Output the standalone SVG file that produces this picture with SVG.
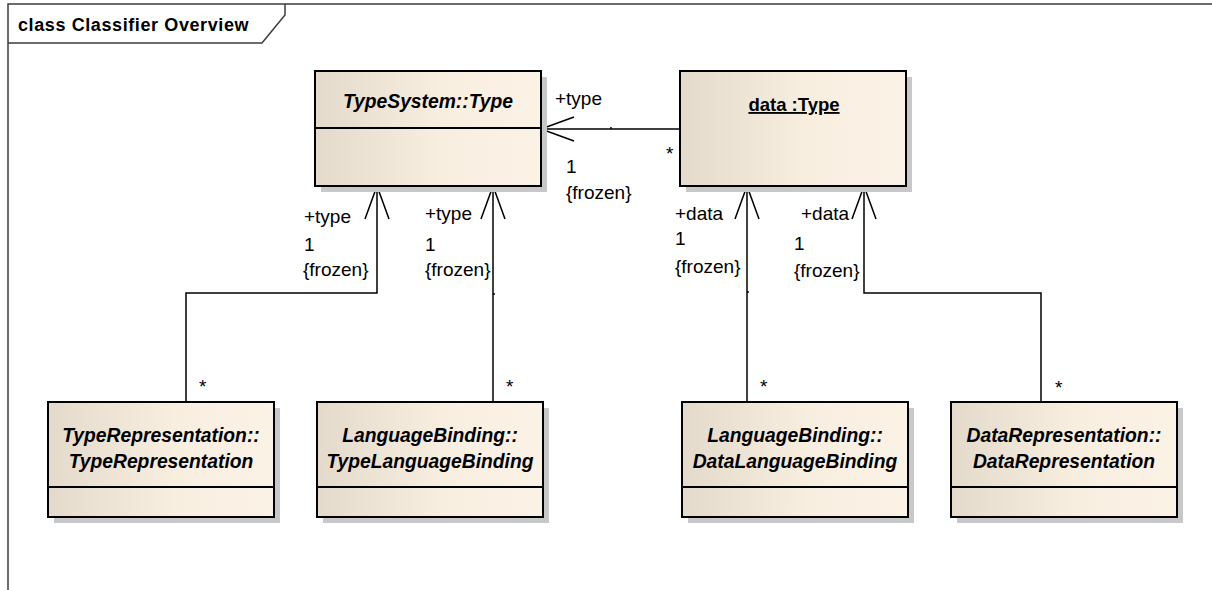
<svg xmlns="http://www.w3.org/2000/svg" width="1212" height="590" viewBox="0 0 1212 590">
<style>
  text { font-family: "Liberation Sans", Arial, sans-serif; fill: #000; }
  .frame { fill: none; stroke: #3c3c3c; stroke-width: 1.5; }
  .title { font-size: 18px; font-weight: bold; letter-spacing: 0.6px; }
  .box { fill: url(#boxfill); stroke: #000; stroke-width: 2; }
  .shadow { fill: #c8c8c8; }
  .div { stroke: #000; stroke-width: 2; }
  .name { font-size: 19.3px; font-weight: bold; font-style: italic; text-anchor: middle; }
  .obj { font-size: 18.5px; font-weight: bold; text-anchor: middle; text-decoration: underline; }
  .lbl { font-size: 19px; }
  .conn { fill: none; stroke: #000; stroke-width: 1.5; }
</style>
<defs>
  <linearGradient id="boxfill" x1="0" y1="0" x2="1" y2="0">
    <stop offset="0" stop-color="#e4dacb"/>
    <stop offset="0.55" stop-color="#f8eee0"/>
    <stop offset="1" stop-color="#fbf2e6"/>
  </linearGradient>
  <marker id="open" markerUnits="userSpaceOnUse" viewBox="-2 -14 38 28" markerWidth="38" markerHeight="28" refX="0" refY="0" orient="auto" overflow="visible">
    <path d="M33,-12 L0,0 L33,12" fill="none" stroke="#000" stroke-width="1.5"/>
  </marker>
</defs>
<rect width="1212" height="590" fill="#fff"/>
<g id="frame">
  <path class="frame" d="M8,590 L8,4 L1212,4"/>
  <path class="frame" d="M8,43 L262,43 L285,15 L285,4"/>
  <text class="title" x="18" y="31">class Classifier Overview</text>
</g>
<g id="connectors">
  <path class="conn" d="M541,129 L680,129" marker-start="url(#open)"/>
  <path class="conn" d="M611,127 L611,129"/>
  <path class="conn" d="M377,186 L377,293 L186,293 L186,402" marker-start="url(#open)"/>
  <path class="conn" d="M493,186 L493,402" marker-start="url(#open)"/>
  <path class="conn" d="M493,294 L495,294"/>
  <path class="conn" d="M747,186 L747,402" marker-start="url(#open)"/>
  <path class="conn" d="M747,292 L749,292"/>
  <path class="conn" d="M864,186 L864,293 L1041,293 L1041,402" marker-start="url(#open)"/>
  <text class="lbl" x="555" y="105">+type</text>
  <text class="lbl" x="566" y="173">1</text>
  <text class="lbl" x="566" y="199">{frozen}</text>
  <text class="lbl" x="666" y="160">*</text>
  <text class="lbl" x="304" y="223">+type</text>
  <text class="lbl" x="304" y="251">1</text>
  <text class="lbl" x="303" y="276">{frozen}</text>
  <text class="lbl" x="199" y="393">*</text>
  <text class="lbl" x="425" y="220">+type</text>
  <text class="lbl" x="425" y="251">1</text>
  <text class="lbl" x="425" y="276">{frozen}</text>
  <text class="lbl" x="506" y="393">*</text>
  <text class="lbl" x="675" y="220">+data</text>
  <text class="lbl" x="675" y="245">1</text>
  <text class="lbl" x="675" y="273">{frozen}</text>
  <text class="lbl" x="760" y="393">*</text>
  <text class="lbl" x="801" y="220">+data</text>
  <text class="lbl" x="794" y="250">1</text>
  <text class="lbl" x="794" y="277">{frozen}</text>
  <text class="lbl" x="1055" y="394">*</text>
</g>
<g id="typesystem-type">
  <rect class="shadow" x="321" y="77" width="226" height="115"/>
  <rect class="box" x="315" y="71" width="226" height="115"/>
  <line class="div" x1="315" y1="128" x2="541" y2="128"/>
  <text class="name" x="428" y="108">TypeSystem::Type</text>
</g>
<g id="data-type">
  <rect class="shadow" x="686" y="77" width="226" height="115"/>
  <rect class="box" x="680" y="71" width="226" height="115"/>
  <text class="obj" x="794" y="111">data :Type</text>
</g>
<g id="type-representation">
  <rect class="shadow" x="54" y="408" width="226" height="115"/>
  <rect class="box" x="48" y="402" width="226" height="115"/>
  <line class="div" x1="48" y1="487" x2="274" y2="487"/>
  <text class="name" x="161" y="442">TypeRepresentation::</text>
  <text class="name" x="161" y="468">TypeRepresentation</text>
</g>
<g id="type-language-binding">
  <rect class="shadow" x="323" y="408" width="226" height="115"/>
  <rect class="box" x="317" y="402" width="226" height="115"/>
  <line class="div" x1="317" y1="487" x2="543" y2="487"/>
  <text class="name" x="430" y="442">LanguageBinding::</text>
  <text class="name" x="430" y="468">TypeLanguageBinding</text>
</g>
<g id="data-language-binding">
  <rect class="shadow" x="688" y="408" width="226" height="115"/>
  <rect class="box" x="682" y="402" width="226" height="115"/>
  <line class="div" x1="682" y1="487" x2="908" y2="487"/>
  <text class="name" x="795" y="442">LanguageBinding::</text>
  <text class="name" x="795" y="468">DataLanguageBinding</text>
</g>
<g id="data-representation">
  <rect class="shadow" x="957" y="408" width="226" height="115"/>
  <rect class="box" x="951" y="402" width="226" height="115"/>
  <line class="div" x1="951" y1="487" x2="1177" y2="487"/>
  <text class="name" x="1064" y="442">DataRepresentation::</text>
  <text class="name" x="1064" y="468">DataRepresentation</text>
</g>
</svg>
